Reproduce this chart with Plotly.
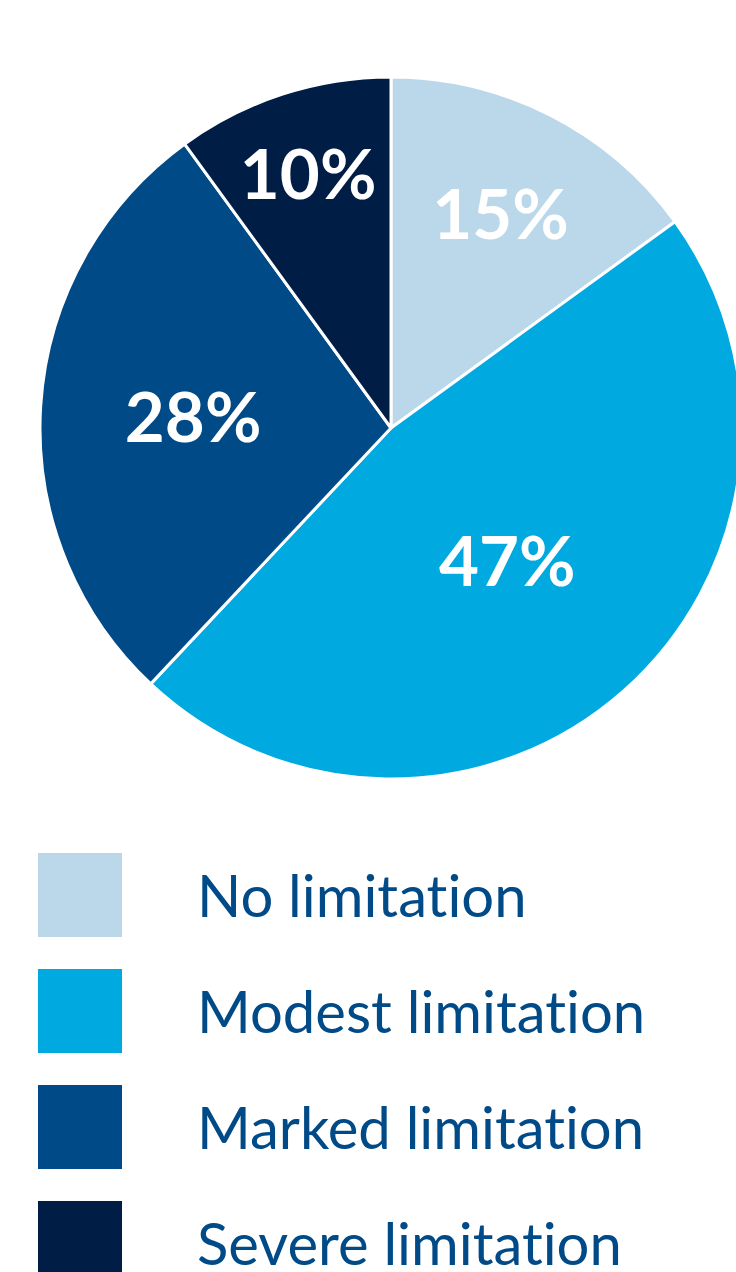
import plotly.graph_objects as go

categories = ["No limitation", "Modest limitation", "Marked limitation", "Severe limitation"]
values = [15, 47, 28, 10]
label_text = ["15%", "47%", "28%", "10%"]
colors = ["#BAD8EA", "#00A9E0", "#004A87", "#001E45"]

W, H = 760, 1272
TEXT_BLUE = "#004A87"

fig = go.Figure()

# pie: center (391, 428), radius 351 in pixels
cx, cy, r = 391, 428, 351
fig.add_trace(go.Pie(
    labels=categories,
    values=values,
    text=label_text,
    textinfo="text",
    textposition="inside",
    insidetextorientation="horizontal",
    insidetextfont=dict(family="Lato", size=69, color="white", weight="bold"),
    marker=dict(colors=colors, line=dict(color="white", width=3)),
    sort=False,
    direction="clockwise",
    rotation=0,
    showlegend=False,
    hoverinfo="label+percent",
    domain=dict(x=[(cx - r) / W, (cx + r) / W], y=[1 - (cy + r) / H, 1 - (cy - r) / H]),
))

# custom legend built on a pixel-scaled cartesian axis
leg_top, leg_step = 895, 116
leg_y = [leg_top + i * leg_step for i in range(len(categories))]
# zero-width non-joiner keeps the "ti" pair from turning into a ligature
leg_text = [c.replace("ti", "t\u200ci") for c in categories]
fig.add_trace(go.Scatter(
    x=[80] * len(categories), y=leg_y, mode="markers",
    marker=dict(symbol="square", size=84, color=colors, line=dict(width=0)),
    showlegend=False, hoverinfo="skip",
))
fig.add_trace(go.Scatter(
    x=[197] * len(categories), y=[v + 7 for v in leg_y], mode="text",
    text=leg_text, textposition="middle right",
    textfont=dict(family="Lato", size=58, color=TEXT_BLUE),
    showlegend=False, hoverinfo="skip",
))

fig.update_xaxes(range=[0, W], visible=False, fixedrange=True)
fig.update_yaxes(range=[H, 0], visible=False, fixedrange=True)
fig.update_layout(
    width=W, height=H,
    margin=dict(l=0, r=0, t=0, b=0),
    paper_bgcolor="white", plot_bgcolor="white",
)

fig.write_html(
    "out.html",
    post_script="document.documentElement.style.overflow='hidden';document.body.style.overflow='hidden';",
)
